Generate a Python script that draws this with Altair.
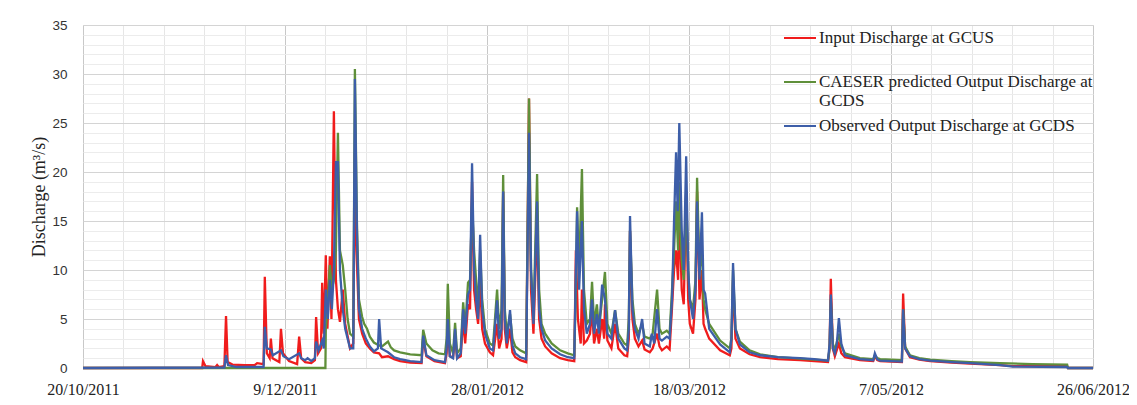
import altair as alt
import pandas as pd

# ---- data (x = days after 20/10/2011, y = discharge m3/s) ----
input_day = [0, 29.5, 29.7, 30.3, 32.8, 33.2, 33.6, 35.0, 35.4, 35.8, 37, 40, 42.5, 43.1, 44.7, 45.0, 45.5, 46.2, 46.5, 46.9,
             48.6, 49.0, 49.5, 51, 53, 53.5, 54, 55, 56.5, 57.4, 57.7, 58.2, 58.9, 59.2, 59.6, 60.1, 60.5, 61.1, 61.5, 62.1,
             62.6, 63.1, 63.6, 64.3, 64.9, 66.1, 66.9, 67.3, 67.7, 68.3, 69.1, 70, 71, 72, 73.3, 74, 75.5, 77, 78.5, 81,
             83.8, 84.2, 85, 87, 89.6, 90, 90.3, 90.8, 91.6, 92.1, 92.6, 93.5, 94.1, 94.6, 95.3, 95.8, 96.3, 96.8, 97.3, 97.8,
             98.3, 98.8, 99.5, 100.7, 101.5, 102.5, 103, 103.6, 104, 104.4, 104.9, 105.7, 106.3, 107, 108.2, 109.7, 110.4, 110.9, 111.5, 112.4,
             112.9, 113.5, 114.4, 116, 118.1, 120, 121.6, 122, 122.5, 123.2, 123.5, 124, 124.7, 125.5, 126, 126.5, 127.2, 127.7, 128.5, 129,
             129.2, 129.8, 130.8, 131.7, 132.5, 134, 134.7, 135.1, 135.4, 136, 136.6, 137.5, 138.4, 139, 140.3, 141, 142.1, 142.7, 143.3, 144.5,
             145.2, 145.8, 146.3, 146.8, 147.3, 147.6, 148.2, 148.7, 149.3, 149.8, 150.2, 151, 151.6, 152, 152.6, 153.2, 153.6, 154, 155, 157.7,
             160.1, 160.5, 160.9, 161.5, 162.6, 165, 167.6, 172, 177.5, 181, 184.4, 184.8, 185.1, 185.6, 186.1, 187.1, 187.7, 188.6, 192.3, 195.6,
             196, 196.6, 197.3, 202.7, 203, 203.5, 204.7, 207, 209.7, 215, 219.6, 227, 230.2, 243.6, 243.8, 250]
input_q = [0, 0, 0.7, 0.2, 0.1, 0.3, 0.1, 0.2, 5.3, 0.6, 0.35, 0.3, 0.3, 0.5, 0.4, 9.3, 1.5, 1.0, 3.0, 1.0,
           0.6, 4.0, 1.5, 0.7, 0.4, 3.2, 1.0, 0.6, 0.5, 0.8, 5.2, 1.5, 2.0, 8.7, 3.5, 11.5, 4, 11.4, 5, 26.2,
           9, 6, 4.7, 8, 4.5, 2, 2.5, 22, 12, 5, 3.5, 2.5, 2.0, 1.6, 1.5, 1.1, 1.2, 0.9, 0.7, 0.55,
           0.5, 3.0, 1.2, 0.7, 0.5, 1.5, 4.2, 1.2, 1.1, 3.2, 1.0, 1.2, 5, 2.5, 6.5, 6, 19, 8, 6, 4.5,
           9, 4, 2.5, 1.6, 1.3, 4.5, 2, 3, 18, 4, 2, 4, 1.6, 1.1, 0.8, 0.6, 27.5, 8, 3.5, 15,
           5, 3, 2.2, 1.5, 1.0, 0.8, 0.7, 12, 5, 2.5, 8, 2.5, 2.8, 3.5, 6, 2.5, 4, 2.5, 5, 3,
           6.5, 2.8, 2, 4.5, 2.0, 1.3, 1.2, 3, 14, 5, 3, 2.2, 2.8, 1.9, 1.6, 2.0, 3.5, 2.2, 1.8, 2.2,
           1.9, 6.2, 10, 12, 9, 16, 8, 6.5, 18, 7, 4.5, 3.5, 7, 18, 7, 10, 4.5, 4, 3, 1.8,
           1.3, 2, 9, 3, 2, 1.4, 1.1, 0.9, 0.8, 0.7, 0.6, 2, 9.1, 2, 1.2, 2.5, 1.5, 1.1, 0.8, 0.7,
           1.2, 0.8, 0.7, 0.6, 7.6, 2.0, 1.1, 0.85, 0.7, 0.55, 0.45, 0.3, 0.2, 0.18, 0, 0]

caeser_day = [0, 60.0, 60.1, 60.5, 61.1, 61.6, 62.1, 62.6, 63.1, 63.6, 64.3, 64.9, 65.5, 66.1, 66.9, 67.3, 67.8, 68.3, 69.1, 69.6,
              70.3, 71, 72, 73.3, 74, 75.5, 76.2, 77, 78.5, 81, 83.8, 84.2, 85, 86.5, 88, 89.6, 90.0, 90.3, 90.8, 91.6,
              92.1, 92.6, 93.5, 94.1, 94.6, 95.3, 95.8, 96.3, 96.8, 97.3, 97.8, 98.3, 98.8, 99.5, 100.7, 101.5, 102.5, 103, 103.6, 104,
              104.4, 104.9, 105.7, 106.3, 107, 108.2, 109.7, 110.4, 110.9, 111.5, 112.4, 112.9, 113.5, 114.4, 116, 118.1, 120, 121.6, 122, 122.3,
              122.8, 123.5, 124, 124.7, 125.5, 126, 126.5, 127.2, 127.7, 128.5, 129.2, 129.8, 130.8, 131.7, 132.5, 134, 134.7, 135.1, 135.4, 136,
              136.6, 137.5, 138.4, 139, 140.3, 141, 142.1, 142.7, 143.3, 144.5, 145.2, 145.8, 146.3, 146.8, 147.3, 147.6, 148.2, 148.7, 149.3, 149.8,
              150.2, 151, 151.6, 152, 152.6, 153.2, 153.6, 154, 155, 157.7, 160.1, 160.5, 160.9, 161.5, 162.6, 165, 167.6, 172, 177.5, 181,
              184.4, 184.8, 185.1, 185.6, 186.1, 187.1, 187.7, 188.6, 192.3, 195.6, 196, 196.6, 197.3, 202.7, 203, 203.5, 204.7, 207, 209.7, 215,
              219.6, 227, 235, 243.6, 243.8, 250]
caeser_q = [0, 0, 4, 6, 10.5, 8, 9, 12, 24, 12, 10.5, 8, 5, 3.5, 3.2, 30.5, 15, 7, 5.2, 4.5,
            4, 3.2, 2.6, 2.3, 2.2, 2.7, 2.1, 1.8, 1.6, 1.4, 1.3, 3.9, 2.5, 1.8, 1.5, 1.4, 3, 8.6, 2.5, 1.5,
            4.6, 1.5, 2, 6.7, 4, 8.7, 9, 17, 12, 9, 6, 12, 7, 4, 2.5, 2.3, 8, 4, 6, 19.7,
            6, 3.5, 5.5, 3, 2.2, 1.8, 1.5, 27.5, 10, 5, 19.8, 8, 4.5, 3.5, 2.5, 1.8, 1.5, 1.3, 8, 16.4,
            10, 20.3, 8, 4.5, 5, 8.8, 4.5, 6.5, 4, 7, 9.8, 4.5, 3.5, 5.9, 3.5, 2.5, 2.3, 5, 14, 7,
            4.5, 3.5, 4.5, 3.2, 3, 3.5, 8, 4, 3.5, 3.8, 3.5, 8, 12, 17, 12, 19, 11, 9, 18, 10,
            7, 6, 9, 19.4, 10, 12, 7, 6, 4.5, 2.8, 2.0, 3, 10, 4, 2.7, 1.8, 1.4, 1.1, 0.95, 0.85,
            0.75, 2, 7, 2.5, 1.8, 3.5, 2.2, 1.5, 1.0, 0.9, 1.3, 1.0, 0.9, 0.8, 6, 2.2, 1.3, 1.0, 0.85, 0.7,
            0.6, 0.5, 0.4, 0.35, 0, 0]

obs_day = [0, 35.0, 35.4, 35.9, 38, 44.7, 45.0, 45.5, 46.5, 47, 49.0, 49.6, 51, 53.5, 54, 55, 55.6, 56.5, 57.4, 57.7,
           58.3, 59.2, 59.6, 60.1, 60.6, 61.1, 61.6, 62.1, 62.6, 63.1, 63.6, 64.3, 64.9, 66.1, 66.9, 67.3, 67.8, 68.3, 69.1, 70,
           71, 72, 73.0, 73.3, 73.8, 75.5, 77, 78.5, 81, 83.8, 84.2, 85, 87, 89.6, 90.0, 90.3, 90.8, 91.6, 92.1, 92.6,
           93.5, 94.1, 94.6, 95.3, 95.8, 96.3, 96.8, 97.3, 97.8, 98.3, 98.8, 99.5, 100.7, 101.5, 102.5, 103, 103.6, 104, 104.4, 104.9,
           105.7, 106.3, 107, 108.2, 109.7, 110.4, 110.9, 111.5, 112.4, 112.9, 113.5, 114.4, 116, 118.1, 120, 121.6, 122, 122.3, 122.8, 123.5,
           124, 124.7, 125.5, 126, 126.5, 127.2, 127.7, 128.5, 129.2, 129.8, 130.8, 131.7, 132.5, 134, 134.7, 135.1, 135.4, 136, 136.6, 137.5,
           138.4, 139, 140.3, 140.8, 141.4, 142.1, 142.7, 143.3, 144.5, 145.2, 145.8, 146.3, 146.8, 147.2, 147.6, 148.2, 148.7, 149.3, 149.8, 150.2,
           151, 151.6, 152, 152.6, 153.2, 153.6, 154, 155, 157.7, 160.1, 160.5, 160.9, 161.5, 162.6, 165, 167.6, 172, 177.5, 181, 184.4,
           184.8, 185.1, 185.6, 186.1, 186.6, 187.1, 187.7, 188.6, 192.3, 195.6, 196, 196.6, 197.3, 202.7, 203, 203.5, 204.7, 207, 209.7, 215,
           219.6, 227, 230.2, 243.6, 243.8, 250]
obs_q = [0, 0.05, 1.3, 0.3, 0.1, 0.1, 4.2, 2, 1.9, 1.3, 1.8, 1.2, 0.9, 1.5, 1.0, 0.8, 1.0, 0.7, 1.0, 2.7,
         1.8, 2.8, 2.0, 8, 5, 9, 6, 10, 21, 21, 10, 6, 4, 2, 2, 29.5, 14, 6, 4, 3,
         2.2, 1.7, 2, 5, 2, 1.6, 1.1, 0.9, 0.7, 0.6, 3.3, 1.3, 0.8, 0.6, 2, 5, 1.2, 1.0, 4, 1.0,
         1.5, 6, 3.5, 7.5, 8, 20.9, 10, 7, 5, 13.6, 6, 3.5, 2.0, 1.8, 6.9, 3, 4, 18, 5, 2.5,
         5.9, 2.3, 1.5, 1.1, 0.9, 24, 10, 4.5, 17, 6, 4, 2.8, 2, 1.4, 1.1, 1.0, 10, 16, 8, 15,
         6, 3.5, 4.5, 7, 3.5, 5.5, 3.5, 8.5, 7, 3.5, 3, 5.9, 3, 2, 1.8, 4, 15.5, 6, 4, 3,
         5, 2.5, 2.2, 3.5, 2.5, 6, 3, 2.8, 3.2, 3, 7, 15, 22, 16, 25, 14, 10, 21.6, 10, 7,
         5, 8, 17, 9, 15.9, 8, 7.6, 4, 2.4, 1.6, 3, 10.7, 4, 2.4, 1.6, 1.3, 1.1, 1.0, 0.9, 0.75,
         2.5, 7.5, 2, 1.5, 2.5, 5.1, 2.5, 1.3, 0.9, 0.8, 1.5, 0.9, 0.75, 0.65, 6.0, 2.0, 1.2, 0.9, 0.75, 0.6,
         0.5, 0.3, 0.15, 0.1, 0, 0]

series_names = ["Input Discharge at GCUS",
                "CAESER predicted Output Discharge at GCDS",
                "Observed Output Discharge at GCDS"]
series_colors = ["#f01c1c", "#5f8f3a", "#3d5ea8"]

x_ticks = [0, 50, 100, 150, 200, 250]
x_tick_labels = ["20/10/2011", "9/12/2011", "28/01/2012", "18/03/2012", "7/05/2012", "26/06/2012"]
x_minor = [d for d in range(0, 251, 10) if d % 50 != 0]
y_ticks = [0, 5, 10, 15, 20, 25, 30, 35]
y_minor = [v for v in range(0, 36) if v % 5 != 0]

rows = []
for name, days, vals in zip(series_names, [input_day, caeser_day, obs_day], [input_q, caeser_q, obs_q]):
    for i, (d, v) in enumerate(zip(days, vals)):
        rows.append({"series": name, "day": d, "q": v, "idx": i})
df = pd.DataFrame(rows)

label_expr = "[" + ",".join("'%s'" % t for t in x_tick_labels) + "][round(datum.value/50)]"
legend_expr = ("datum.label == '%s' ? ['CAESER predicted Output Discharge at', 'GCDS'] : [datum.label, ' ']"
               % series_names[1])

xscale = alt.Scale(domain=[0, 250], nice=False, zero=False)
yscale = alt.Scale(domain=[0, 35], nice=False)

minor = alt.Chart(df).mark_line(strokeOpacity=0).encode(
    x=alt.X("day:Q", scale=xscale, axis=alt.Axis(values=x_minor, orient="top", labels=False, ticks=False,
                                                 domain=False, title=None, grid=True, gridColor="#e6e6e6")),
    y=alt.Y("q:Q", scale=yscale, axis=alt.Axis(values=y_minor, orient="right", labels=False, ticks=False,
                                               domain=False, title=None, grid=True, gridColor="#ececec")),
    detail="series:N",
)

lines = alt.Chart(df).mark_line(strokeWidth=2.3).encode(
    x=alt.X("day:Q", scale=xscale,
            axis=alt.Axis(values=x_ticks, labelExpr=label_expr, title=None, grid=True, gridColor="#c8c8c8",
                          ticks=False, domain=False, labelFont="Liberation Serif", labelFontSize=16,
                          labelColor="#222222", labelPadding=13, labelOverlap=False, labelFlush=False,
                          labelBound=False)),
    y=alt.Y("q:Q", scale=yscale,
            axis=alt.Axis(values=y_ticks, title="Discharge (m³/s)", grid=True, gridColor="#d4d4d4",
                          ticks=False, domain=False, labelFont="Liberation Sans", labelFontSize=13.5,
                          labelColor="#333333", labelPadding=16, titleFont="Liberation Serif",
                          titleFontSize=18, titleFontWeight="normal", titleColor="#222222", titlePadding=3)),
    color=alt.Color("series:N", scale=alt.Scale(domain=series_names, range=series_colors),
                    legend=alt.Legend(title=None, orient="none", legendX=700, legendY=-4, symbolType="stroke",
                                      symbolSize=1024, symbolStrokeWidth=2, labelFont="Liberation Serif",
                                      labelFontSize=17, labelColor="#222222", labelLimit=400,
                                      labelExpr=legend_expr, labelOffset=2, rowPadding=-4, padding=0)),
    order="idx:Q",
)

chart = alt.layer(minor, lines).resolve_axis(x="independent", y="independent").properties(
    width=1010, height=343,
    padding={"left": 75, "top": 17, "right": 36, "bottom": 29},
    autosize=alt.AutoSizeParams(type="none"),
).configure_view(stroke="#d0d0d0", strokeWidth=1).configure(background="white")

chart.save("out.html", embed_options={"renderer": "svg", "actions": False})
